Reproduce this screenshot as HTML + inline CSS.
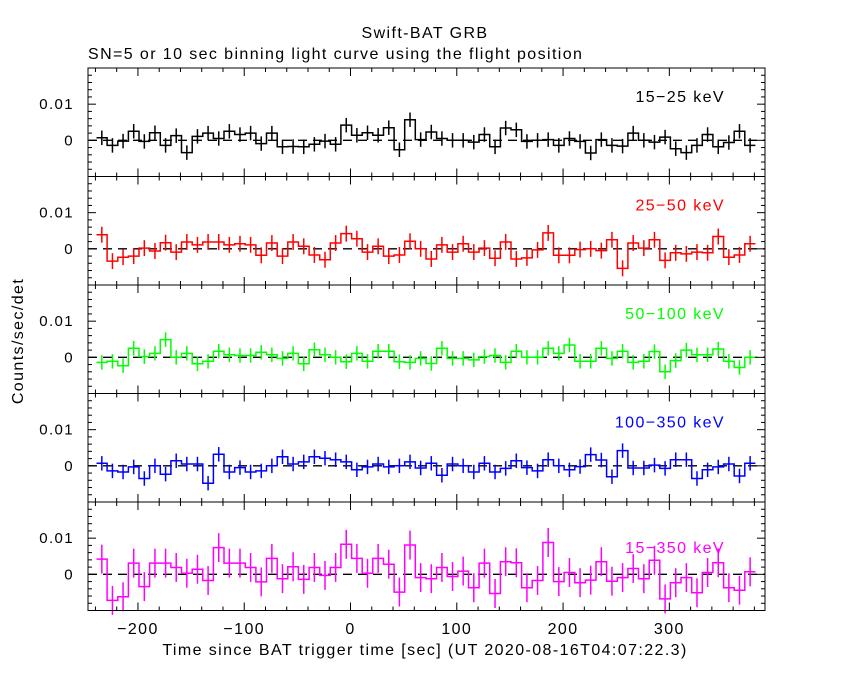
<!DOCTYPE html>
<html><head><meta charset="utf-8"><style>
body{margin:0;background:#fff;}
svg{display:block;font-family:"Liberation Sans",sans-serif;}
svg text{letter-spacing:1.4px;}
</style></head><body>
<svg id="chart" width="850" height="680" viewBox="0 0 850 680">
<rect width="850" height="680" fill="#fff"/>
<text x="425" y="38" font-size="16" text-anchor="middle">Swift-BAT GRB</text>
<text x="88" y="59" font-size="16">SN=5 or 10 sec binning light curve using the flight position</text>
<text x="425" y="655" font-size="16" text-anchor="middle">Time since BAT trigger time [sec] (UT 2020-08-16T04:07:22.3)</text>
<text x="0" y="0" font-size="16" text-anchor="middle" transform="translate(23,341) rotate(-90)">Counts/sec/det</text>
</svg>
<script>
const binStart = -239;
const binWidth = 10;
const bands = ["15\u221225 keV","25\u221250 keV","50\u2212100 keV","100\u2212350 keV","15\u2212350 keV"];
const colors = ["#000000","#ff0000","#00ff00","#0000ff","#ff00ff"];
const xTicks = [-200,-100,0,100,200,300];
const yTickLabels = ["0.01","0"];
// rates in units of 1e-3 counts/sec/det
const rate15_25 = [0.7,-1.4,-0.2,2.5,-0.3,2.1,-1.4,1.3,-3.4,1.1,2.0,0.5,2.5,1.6,2.0,-0.9,2.0,-1.8,-1.7,-1.8,-1.1,-0.2,-1.1,4.2,1.4,2.1,1.4,3.5,-2.6,5.7,0.2,
 2.3,0.5,0,0,-0.5,1.6,-1.8,3.4,2.9,-0.3,0,0.2,-1.4,0.5,-0.3,-3.5,0.2,-1.4,-1.6,2.0,0,-0.5,0.9,-2.3,-3.4,-1.4,1.6,-1.8,-0.6,2.5,-1.4];
const rate25_50 = [3.9,-3.4,-2.3,-2.0,0.2,-0.6,1.7,-0.9,1.9,1.1,1.9,1.9,1.1,1.4,1.1,-1.8,1.6,-2.0,1.9,0.7,-1.7,-3.0,1.6,4.2,2.8,-0.9,0.7,-2.0,-1.7,2.1,0,
 -2.8,1.1,-0.9,1.4,-0.9,0.2,-2.6,1.9,-2.8,-2.5,-0.3,4.4,-1.8,-1.8,-0.2,0,-0.5,2.5,-5.4,1.6,0.2,2.5,-3.2,-1.1,-1.4,-0.9,-1.1,3.4,-2.3,-1.7,1.4];
const rate50_100 = [-1.4,-1.1,-2.3,2.5,0.2,1.1,4.9,0,1.1,-1.8,-1.1,1.7,0.7,0.5,0.5,1.4,0.7,-0.3,1.1,-1.8,2.1,0.7,0,-1.2,1.1,-1.1,1.7,1.7,-1.2,-1.4,-0.3,
 -1.7,2.5,-0.3,-0.3,-0.7,0.2,0.5,-1.4,1.7,0,0,2.5,1.1,3.4,-1.1,-1.1,2.5,-0.3,1.7,-1.4,-1.1,1.6,-4.0,-0.9,2.0,0.7,0.7,2.3,-1.1,-2.8,0];
const rate100_350 = [0.7,-1.4,-1.7,-0.3,-3.5,0,-2.3,1.4,0.5,0.5,-4.8,3.2,-1.7,-0.5,-1.7,-1.4,0,2.5,0.5,1.1,2.5,2.1,1.7,1.1,-1.1,-0.3,0.5,-0.3,0,1.1,-0.6,
 0.7,-2.6,0.5,0,-1.7,0.7,-1.7,-0.7,1.4,-0.5,-1.4,1.7,0,-1.1,-0.2,3.1,1.6,-3.0,4.2,-0.6,-0.6,0.2,-0.7,1.7,1.7,-3.5,-1.1,-0.3,0.5,-2.8,0.7];
const rate15_350 = [4.2,-7.2,-6.2,3.1,-3.4,3.1,3.1,1.9,0.3,1.4,-1.7,7.4,3.1,3.1,1.9,-2.1,4.4,-1.2,2.1,-1.4,1.9,-0.3,1.9,8.3,4.4,0.3,4.4,2.8,-4.9,8.1,-0.9,
 -1.2,1.9,-0.6,0.9,-3.7,3.1,-5.3,3.5,3.2,-3.7,-1.7,8.8,-2.0,0.5,-2.3,-1.6,3.5,-1.9,-0.9,1.6,-1.2,3.9,-6.8,-2.3,-0.9,-5.1,0.5,3.2,-3.7,-4.4,0.7];
const errors = [2.0,2.2,2.0,2.0,4.0];
const series = [rate15_25,rate25_50,rate50_100,rate100_350,rate15_350];

const NS="http://www.w3.org/2000/svg";
const svg=document.getElementById('chart');
const X0=88,X1=765,T0=-247,T1=390;
const PT=[68,176.5,285,393.5,502],PH=108.5,YMIN=-10,YMAX=20;
function xs(t){return X0+(t-T0)/(T1-T0)*(X1-X0);}
function ys(p,v){return PT[p]+PH-(v-YMIN)/(YMAX-YMIN)*PH;}
function mk(tag,attrs,parent){const e=document.createElementNS(NS,tag);for(const k in attrs)e.setAttribute(k,attrs[k]);(parent||svg).appendChild(e);return e;}

for(let p=0;p<5;p++){
  const g=mk('g',{});
  
  
  const top=PT[p],bot=PT[p]+PH;
  const z=mk('line',{x1:X0,x2:X1,y1:ys(p,0),y2:ys(p,0),stroke:'#000','stroke-width':1.3,'stroke-dasharray':'9,6'},g);
  
  
  const d=series[p];const c=colors[p];
  let path='';
  for(let i=0;i<d.length;i++){
    const xa=xs(binStart+i*binWidth),xb=xs(binStart+(i+1)*binWidth),y=ys(p,d[i]);
    path+=(i===0?'M':'L')+xa.toFixed(1)+','+y.toFixed(1)+'L'+xb.toFixed(1)+','+y.toFixed(1);
    const xm=(xa+xb)/2;
    const eb=mk('line',{x1:xm,x2:xm,y1:ys(p,d[i]-errors[p]),y2:ys(p,d[i]+errors[p]),stroke:c,'stroke-width':1.5},g);
    
    
  }
  const sp=mk('path',{d:path,fill:'none',stroke:c,'stroke-width':1.5},g);
  
  
  const fr=mk('rect',{x:X0,y:top,width:X1-X0,height:PH,fill:'none',stroke:'#000','stroke-width':1},g);
  
  
  for(let t=-240;t<=380;t+=20){
    const major=(t%100===0);const L=major?8:4;const x=xs(t);
    mk('line',{x1:x,x2:x,y1:bot,y2:bot-L,stroke:'#000'},g);
    mk('line',{x1:x,x2:x,y1:top,y2:top+L,stroke:'#000'},g);
  }
  for(let v=-10;v<=20;v+=2){
    const major=(v%10===0);const L=major?8:4;const y=ys(p,v);
    mk('line',{x1:X0,x2:X0+L,y1:y,y2:y,stroke:'#000'},g);
    mk('line',{x1:X1,x2:X1-L,y1:y,y2:y,stroke:'#000'},g);
  }
  const yl=[10,0];
  for(let k=0;k<yl.length;k++){
    const tx=mk('text',{x:74,y:ys(p,yl[k])+5,'font-size':15,'text-anchor':'end'},g);
    tx.textContent=yTickLabels[k];
    
    
  }
  const lbl=mk('text',{x:725,y:(p===4?PT[p]+51:PT[p]+34),'font-size':16,'text-anchor':'end',fill:c},g);
  lbl.textContent=bands[p];
  
  
}
for(const t of xTicks){
  const tx=mk('text',{x:xs(t),y:634,'font-size':16,'text-anchor':'middle'});
  tx.textContent=(t<0?'\u2212'+(-t):String(t));
  
  
}
</script>
</body></html>
